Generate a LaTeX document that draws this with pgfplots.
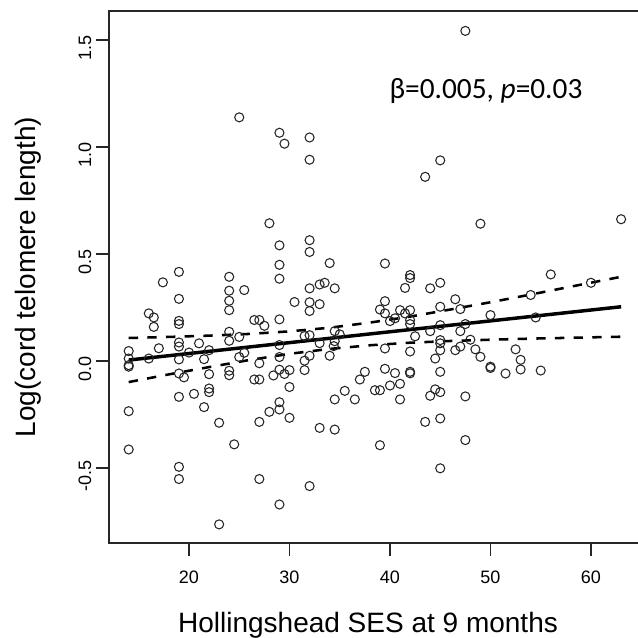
\documentclass[border=0pt]{standalone}
\usepackage{fontspec}
\setmainfont{Liberation Sans}
\newfontfamily\calibri{Carlito}
\usepackage{pgfplots}
\pgfplotsset{compat=1.18}

% scatter data (SES, log telomere length)
\pgfplotstableread{
x y
14 0.047
14 0.012
14 -0.019
14 -0.026
14 -0.234
14 -0.413
16 0.223
16 0.012
16.5 0.204
16.5 0.160
17 0.060
17.4 0.368
19 0.417
19 0.291
19 0.188
19 0.173
19 0.087
19 0.068
19 0.008
19 -0.058
19 -0.167
19 -0.494
19 -0.551
19.5 -0.076
20 0.040
20.5 -0.153
21 0.083
21.5 0.009
21.5 -0.215
22 0.051
22 -0.061
22 -0.128
22 -0.145
23 -0.288
23 -0.763
24 0.394
24 0.329
24 0.282
24 0.238
24 0.137
24 0.095
24 -0.045
24 -0.066
24.5 -0.389
25 1.139
25 0.113
25 0.019
25.5 0.332
25.5 0.039
26.5 0.192
26.5 -0.086
27 0.192
27 -0.010
27 -0.086
27 -0.284
27 -0.551
27.5 0.165
28 0.644
28 -0.237
28.4 -0.067
29 1.067
29 0.541
29 0.450
29 0.385
29 0.195
29 0.075
29 0.019
29 -0.040
29 -0.192
29 -0.226
29 -0.670
29.5 1.016
29.5 -0.060
30 -0.042
30 -0.121
30 -0.265
30.5 0.276
31.5 0.117
31.5 0.002
31.5 -0.042
32 1.045
32 0.941
32 0.565
32 0.510
32 0.340
32 0.275
32 0.234
32 0.121
32 0.025
32 -0.584
33 0.358
33 0.266
33 0.084
33 -0.312
33.5 0.366
34 0.458
34 0.025
34.5 0.340
34.5 0.140
34.5 0.093
34.4 0.070
34.5 -0.179
34.5 -0.320
35 0.125
35.5 -0.139
36.5 -0.179
37 -0.086
37.5 -0.050
38.5 -0.136
39 0.241
39 -0.136
39 -0.393
39.5 0.456
39.5 0.280
39.5 0.223
39.5 0.059
39.5 -0.036
40 0.187
40 -0.114
40.5 0.200
40.5 -0.056
41 0.238
41 -0.106
41 -0.179
41.5 0.342
41.5 0.223
42 0.402
42 0.388
42 0.238
42 0.192
42 0.173
42 0.045
42 -0.050
42 -0.057
42.5 0.116
43.5 0.861
43.5 -0.284
44 0.340
44 0.140
44 -0.162
44.5 0.012
44.5 -0.132
45 0.938
45 0.366
45 0.254
45 0.168
45 0.098
45 0.083
45 0.051
45 -0.050
45 -0.145
45 -0.268
45 -0.501
46.5 0.289
46.5 0.051
47 0.243
47 0.140
47 0.068
47.5 1.543
47.5 0.173
47.5 -0.165
47.5 -0.369
48 0.100
48.5 0.055
49 0.642
49 0.020
50 0.215
50 -0.026
50 -0.032
51.5 -0.058
52.5 0.055
53 0.006
53 -0.039
54 0.309
54.5 0.204
55 -0.044
56 0.405
60 0.366
63 0.663
}\scatter

% fitted line and 95% band
\pgfplotstableread{
x lo hi
14 -0.098 0.108
18 -0.062 0.113
22 -0.028 0.119
26 0.005 0.127
30 0.034 0.139
34 0.057 0.156
38 0.074 0.180
42 0.086 0.208
46 0.094 0.241
50 0.100 0.275
54 0.105 0.311
58 0.109 0.348
63 0.114 0.394
}\band

\begin{document}
\begin{tikzpicture}
\begin{axis}[name=ax,at={(0,0)},anchor=south west,
 scale only axis,width=398.25pt,height=399pt,
 xmin=12.04,xmax=64.88,ymin=-0.850,ymax=1.636,
 axis line style={line width=1.3pt,black!85},
 xtick={20,30,40,50,60},ytick={-0.5,0,0.5,1,1.5},
 tick pos=left,tick align=outside,major tick length=9.75pt,
 tick style={line width=1.1pt,black!85},
 /pgf/number format/assume math mode=true,
 tick label style={font=\fontsize{13.5}{16}\selectfont},
 xticklabel style={yshift=-8pt},
 yticklabel style={rotate=90,anchor=south,xshift=-6pt,/pgf/number format/fixed,
   /pgf/number format/precision=1,/pgf/number format/fixed zerofill},
 clip=false,
]
\addplot[only marks,mark=o,mark size=3.4pt,mark options={line width=0.8pt,draw=black!85}] table[x=x,y=y]{\scatter};
\addplot[black,line width=2.6pt] coordinates {(14,0.005) (63,0.254)};
\addplot[black,line width=1.9pt,dash pattern=on 7pt off 7pt] table[x=x,y=hi]{\band};
\addplot[black,line width=1.9pt,dash pattern=on 7pt off 7pt] table[x=x,y=lo]{\band};
\node[anchor=base west,font=\calibri\fontsize{22}{25}\selectfont] at (axis cs:39.5,1.229) {β=0.005, \textit{p}=0.03};
\end{axis}
\node[anchor=base,font=\fontsize{21}{24}\selectfont] at ([xshift=194.25pt,yshift=-66.75pt]ax.south west) {Hollingshead SES at 9 months};
\node[anchor=base,rotate=90,font=\fontsize{21}{24}\selectfont] at ([xshift=-54.75pt]ax.west) {Log(cord telomere length)};
\pgfresetboundingbox
\path[use as bounding box] ([xshift=-81.75pt,yshift=-70.5pt]ax.south west) rectangle ([xshift=396.75pt,yshift=8.25pt]ax.north west);
\end{tikzpicture}
\end{document}
